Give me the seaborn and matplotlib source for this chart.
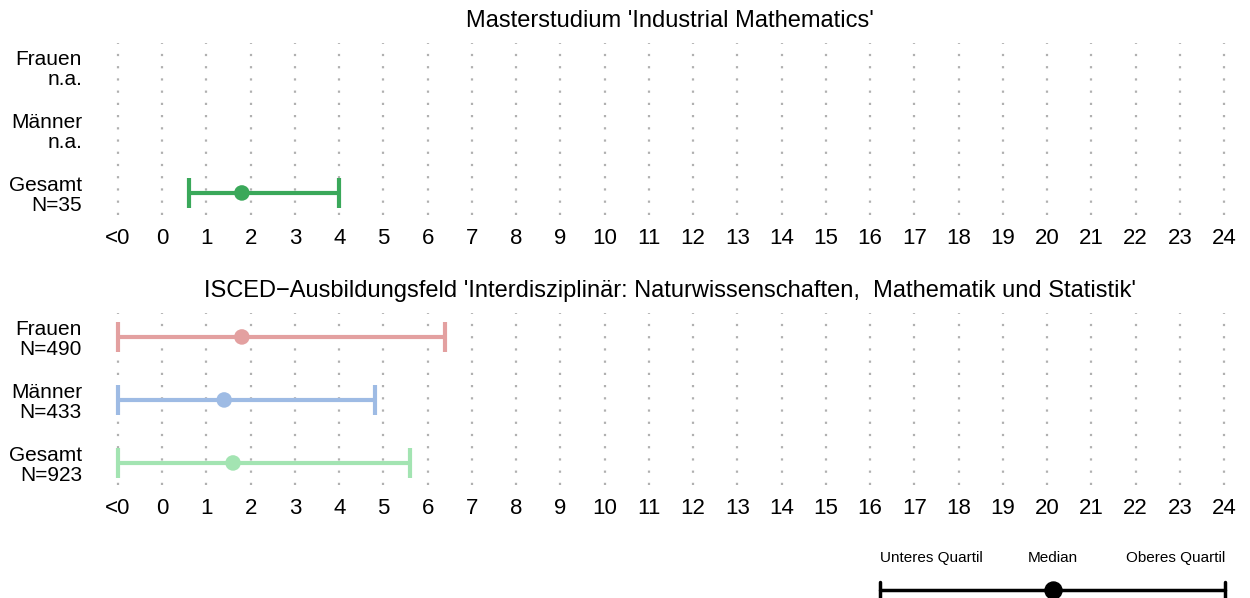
import numpy as np
import pandas as pd
import matplotlib.pyplot as plt
import seaborn as sns

# x = -1 stands for "<0"
tick_vals = list(range(-1, 25))
tick_labels = ["<0"] + [str(i) for i in range(25)]

groups = ["Frauen", "Männer", "Gesamt"]

top_title = "Masterstudium 'Industrial Mathematics'"
top_n = ["n.a.", "n.a.", "N=35"]
top_lower = [np.nan, np.nan, 0.6]
top_median = [np.nan, np.nan, 1.8]
top_upper = [np.nan, np.nan, 4.0]
top_colors = ["#e3a0a0", "#9ebbe4", "#3aa85a"]

bot_title = "ISCED\u2212Ausbildungsfeld 'Interdisziplinär: Naturwissenschaften,  Mathematik und Statistik'"
bot_n = ["N=490", "N=433", "N=923"]
bot_lower = [-1, -1, -1]
bot_median = [1.8, 1.4, 1.6]
bot_upper = [6.4, 4.8, 5.6]
bot_colors = ["#e3a0a0", "#9ebbe4", "#a3e4b2"]

sns.set_style("white")
plt.rcParams["font.family"] = ["Liberation Sans", "DejaVu Sans"]
plt.rcParams["text.color"] = "black"
plt.rcParams["xtick.color"] = "black"
plt.rcParams["ytick.color"] = "black"

fig = plt.figure(figsize=(12.5, 5.98), dpi=100)

W, H = 1250, 598
ax_left, ax_right = 100, 1240
x0_px, unit_px = 118, 44.24
xmin = -1 - (x0_px - ax_left) / unit_px
xmax = -1 + (ax_right - x0_px) / unit_px


def panel(top_px, bottom_px, title, n_labels, lower, median, upper, colors):
    ax = fig.add_axes([ax_left / W, (H - bottom_px) / H,
                       (ax_right - ax_left) / W, (bottom_px - top_px) / H])
    df = pd.DataFrame({"row": range(3), "group": groups, "lower": lower,
                       "median": median, "upper": upper, "color": colors})
    df = df.dropna()
    for _, r in df.iterrows():
        ax.errorbar(r["median"], r["row"],
                    xerr=[[r["median"] - r["lower"]], [r["upper"] - r["median"]]],
                    fmt="none", ecolor=r["color"], elinewidth=3,
                    capsize=11, capthick=3, zorder=3)
    if len(df):
        sns.scatterplot(data=df, x="median", y="row", hue="group",
                        palette=dict(zip(df["group"], df["color"])),
                        s=125, edgecolor="none", legend=False, ax=ax, zorder=4)
    ax.set_xlim(xmin, xmax)
    ax.set_ylim(2.35, -0.38)
    ax.set_xticks(tick_vals)
    ax.set_xticklabels(tick_labels, fontsize=16)
    ax.set_yticks(range(3))
    ax.set_yticklabels([g + "\n" + n for g, n in zip(groups, n_labels)], fontsize=15,
                       linespacing=1.1)
    ax.tick_params(axis="x", length=0, pad=9)
    ax.tick_params(axis="y", length=0, pad=13)
    ax.grid(axis="x", color="#b0b0b0", linestyle=(0, (1, 4.5)), linewidth=1.6)
    ax.grid(axis="y", visible=False)
    ax.set_axisbelow(True)
    for s in ax.spines.values():
        s.set_visible(False)
    ax.set_xlabel("")
    ax.set_ylabel("")
    ax.set_title(title, fontsize=17, pad=11.5)
    return ax


panel(43, 215, top_title, top_n, top_lower, top_median, top_upper, top_colors)
panel(313, 485, bot_title, bot_n, bot_lower, bot_median, bot_upper, bot_colors)

# legend box
lx0, lx1 = 880, 1225
lax = fig.add_axes([lx0 / W, 0, (lx1 - lx0) / W, 58 / H])
lax.set_xlim(0, 1)
lax.set_ylim(0, 58)
lax.axis("off")
lax.plot([0, 1], [8, 8], color="black", lw=2.5, clip_on=False)
lax.plot([0, 0], [0, 16], color="black", lw=2.5, clip_on=False)
lax.plot([1, 1], [0, 16], color="black", lw=2.5, clip_on=False)
lax.scatter([0.5], [8], s=150, color="black", zorder=3, clip_on=False)
lax.text(0.0, 40, "Unteres Quartil", ha="left", va="center", fontsize=11)
lax.text(0.5, 40, "Median", ha="center", va="center", fontsize=11)
lax.text(1.0, 40, "Oberes Quartil", ha="right", va="center", fontsize=11)

fig.savefig("out.png", dpi=100)
